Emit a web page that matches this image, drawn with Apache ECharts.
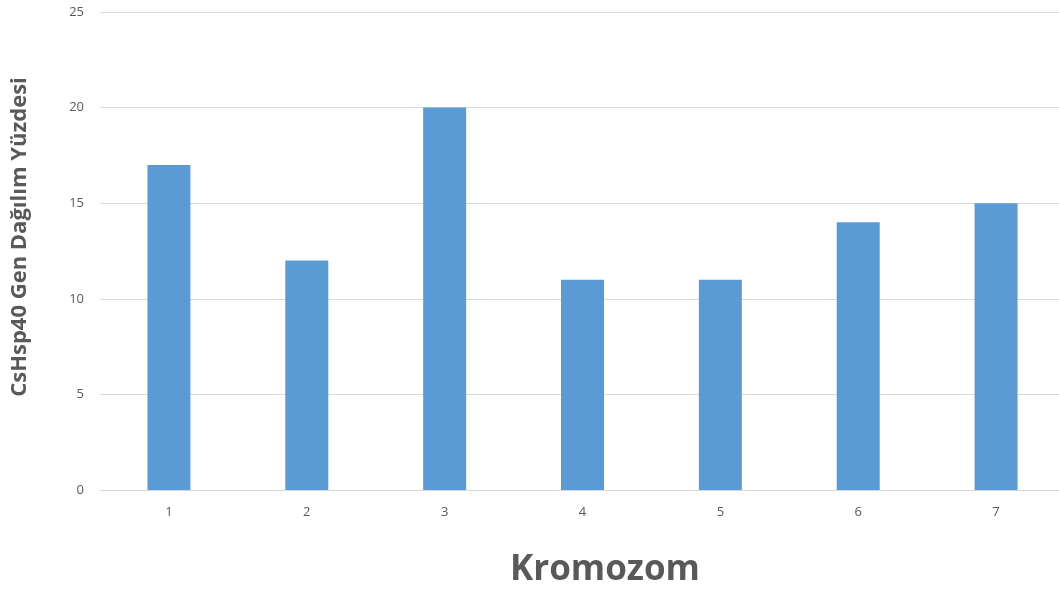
<!DOCTYPE html>
<html>
<head>
<meta charset="utf-8">
<script src="https://cdn.jsdelivr.net/npm/echarts@6/dist/echarts.min.js"></script>
<style>
  html, body { margin: 0; padding: 0; background: #fff; }
  #chart { width: 1059px; height: 595px; }
</style>
</head>
<body>
<div id="chart"></div>
<script>
// kromozom numaralari
const chromosomes = ['1', '2', '3', '4', '5', '6', '7'];
// gen dagilim yuzdesi
const genePercent = [17, 12, 20, 11, 11, 14, 15];
const yTicks = { min: 0, max: 25, interval: 5 };

const chart = echarts.init(document.getElementById('chart'));

const option = {
  backgroundColor: '#ffffff',
  animation: false,
  grid: {
    left: 100,
    right: -6,
    top: 12,
    bottom: 105,
    containLabel: false,
    outerBoundsMode: 'none'
  },
  xAxis: {
    type: 'category',
    data: chromosomes,
    axisLine: { lineStyle: { color: '#d9d9d9', width: 1 } },
    axisTick: { show: false },
    axisLabel: {
      color: '#595959',
      fontSize: 13,
      fontFamily: 'Open Sans',
      margin: 16
    }
  },
  yAxis: {
    type: 'value',
    min: yTicks.min,
    max: yTicks.max,
    interval: yTicks.interval,
    axisLine: { show: false },
    axisTick: { show: false },
    splitLine: { lineStyle: { color: '#d9d9d9', width: 1 } },
    axisLabel: {
      color: '#595959',
      fontSize: 13,
      fontFamily: 'Open Sans',
      margin: 16
    }
  },
  graphic: [
    {
      type: 'text',
      left: 510,
      top: 553,
      style: {
        text: 'Kromozom',
        fill: '#595959',
        font: 'bold 35px "Open Sans"'
      }
    },
    {
      type: 'text',
      x: 20,
      y: 237,
      rotation: Math.PI / 2,
      style: {
        text: 'CsHsp40 Gen Dağılım Yüzdesi',
        fill: '#595959',
        font: 'bold 22px "Open Sans"',
        align: 'center',
        verticalAlign: 'middle'
      }
    }
  ],
  series: [
    {
      name: 'Yüzde',
      type: 'bar',
      data: genePercent,
      barWidth: 43,
      itemStyle: { color: '#5b9bd5' }
    }
  ]
};

chart.setOption(option);
</script>
</body>
</html>
